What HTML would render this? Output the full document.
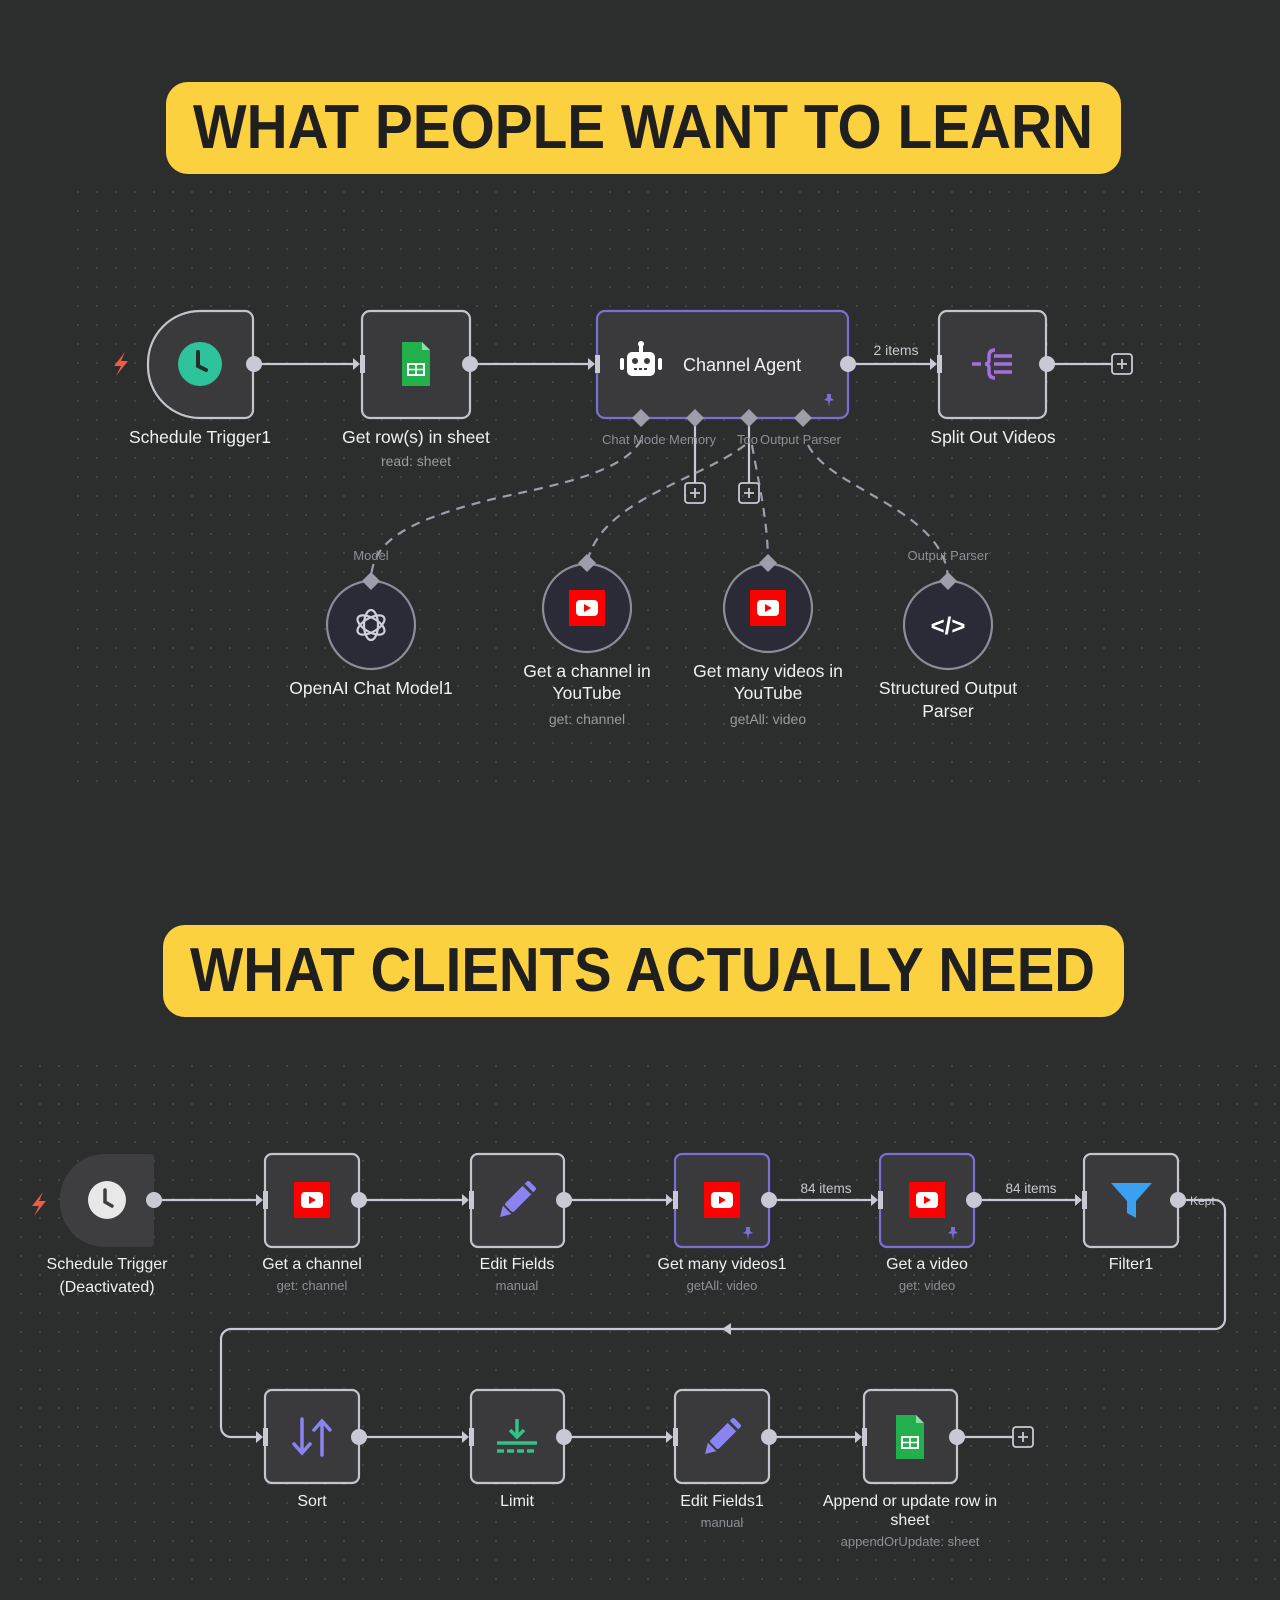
<!DOCTYPE html>
<html><head><meta charset="utf-8"><style>
html,body{margin:0;padding:0;background:#2c2d2d;}
svg{display:block}
text{font-family:"Liberation Sans",sans-serif}
</style></head><body>
<svg width="1280" height="1600" viewBox="0 0 1280 1600" xmlns="http://www.w3.org/2000/svg">
<defs>
<pattern id="dots" width="19" height="19" patternUnits="userSpaceOnUse">
<circle cx="2" cy="2" r="1" fill="#4a4b4c"/>
</pattern>
<g id="yt"><rect x="-18" y="-18" width="36" height="36" fill="#f00"/><rect x="-11" y="-8" width="22" height="16" rx="4" fill="#fff"/><path d="M-3,-4 L4,0 L-3,4Z" fill="#f00"/></g>
<g id="sheet"><path d="M-14,-22 H6 L14,-14 V22 H-14Z" fill="#22b04c"/><path d="M6,-22 V-14 H14Z" fill="#8fdca6"/><rect x="-8" y="0" width="16" height="11" fill="none" stroke="#fff" stroke-width="2"/><path d="M-8,5.5 H8 M0,0 V11" stroke="#fff" stroke-width="1.6"/></g>
<g id="inh"><path d="M-9,-6 L-2,0 L-9,6Z" fill="#c9c9d6"/><rect x="-2" y="-9" width="5" height="18" fill="#c9c9d6"/></g>
<g id="pencil"><g transform="rotate(45)"><rect x="-6" y="-22" width="12" height="34" rx="2" fill="#8b84f0"/><path d="M-6,14 L6,14 L0,24Z" fill="#8b84f0"/><rect x="-6" y="-17" width="12" height="3" fill="#3b3b3d"/></g></g>
<g id="plus"><rect x="-10" y="-10" width="20" height="20" rx="3" fill="none" stroke="#c9c9d6" stroke-width="1.8"/><path d="M-5,0 H5 M0,-5 V5" stroke="#c9c9d6" stroke-width="1.8"/></g>
</defs>
<rect width="1280" height="1600" fill="#2c2d2d"/>
<rect x="77" y="189" width="1127" height="602" fill="url(#dots)"/>
<rect x="15" y="1056" width="1265" height="541" fill="url(#dots)"/>

<rect x="166" y="82" width="955" height="92" rx="22" fill="#fbd13f"/>
<text x="193" y="148" font-size="62" font-weight="bold" fill="#1f1f1f" textLength="900" lengthAdjust="spacingAndGlyphs">WHAT PEOPLE WANT TO LEARN</text>
<rect x="163" y="925" width="961" height="92" rx="22" fill="#fbd13f"/>
<text x="190" y="991" font-size="62" font-weight="bold" fill="#1f1f1f" textLength="905" lengthAdjust="spacingAndGlyphs">WHAT CLIENTS ACTUALLY NEED</text>

<path d="M125,352 L114,366 H121 L116,376 L128,361 H121Z" fill="#ef5b45"/>
<g stroke="#c9c9d6" stroke-width="2.2" fill="none">
<path d="M254,364 H356"/><path d="M470,364 H590"/><path d="M848,364 H932"/><path d="M1047,364 H1112"/>
<path d="M695,418 V483"/><path d="M749,418 V483"/>
</g>
<g stroke="#9d9dac" stroke-width="2.2" fill="none" stroke-dasharray="9,7">
<path d="M641,440 C620,480 520,490 470,505 C400,525 371,545 371,581"/>
<path d="M745,445 C700,480 600,500 587,563"/>
<path d="M752,445 C758,480 768,520 768,563"/>
<path d="M808,445 C830,490 948,510 948,581"/>
</g>
<use href="#plus" x="695" y="493"/><use href="#plus" x="749" y="493"/><use href="#plus" x="1122" y="364"/>

<path d="M200,311 H245 a8,8 0 0 1 8,8 V410 a8,8 0 0 1 -8,8 H200 a52,52 0 0 1 -52,-52 V363 a52,52 0 0 1 52,-52Z" fill="#3a3a3c" stroke="#c4c4cc" stroke-width="2.2"/>
<circle cx="200" cy="364" r="22" fill="#2fc39c"/><path d="M198,352 V366 L206,370" stroke="#2a2b2b" stroke-width="4" fill="none" stroke-linecap="round"/>
<circle cx="254" cy="364" r="8" fill="#c9c9d6"/>
<text x="200" y="443" font-size="17.5" fill="#f0f0f0" text-anchor="middle">Schedule Trigger1</text>

<rect x="362" y="311" width="108" height="107" rx="8" fill="#3a3a3c" stroke="#c4c4cc" stroke-width="2.2"/>
<use href="#sheet" x="416" y="364"/><use href="#inh" x="362" y="364"/>
<circle cx="470" cy="364" r="8" fill="#c9c9d6"/>
<text x="416" y="443" font-size="17.5" fill="#f0f0f0" text-anchor="middle">Get row(s) in sheet</text>
<text x="416" y="466" font-size="14" fill="#9a9a9f" text-anchor="middle">read: sheet</text>

<rect x="597" y="311" width="251" height="107" rx="8" fill="#3a3a3c" stroke="#7b6fd6" stroke-width="2.2"/>
<use href="#inh" x="597" y="364"/>
<g fill="#fff"><rect x="627" y="352" width="28" height="24" rx="5"/><rect x="620" y="358" width="4" height="12" rx="2"/><rect x="658" y="358" width="4" height="12" rx="2"/><rect x="639" y="345" width="4" height="7"/><circle cx="641" cy="344" r="3"/></g>
<circle cx="635" cy="361" r="3" fill="#3a3a3c"/><circle cx="647" cy="361" r="3" fill="#3a3a3c"/><path d="M634,369 H648" stroke="#3a3a3c" stroke-width="2" stroke-dasharray="3,2"/>
<text x="683" y="371" font-size="18" fill="#f0f0f0">Channel Agent</text>
<path d="M827,394 l4,0 l0,4 l3,2 l-4,1 l-1,6 l-1,-6 l-4,-1 l3,-2z" fill="#7b6fd6"/>
<circle cx="848" cy="364" r="8" fill="#c9c9d6"/>
<text x="896" y="355" font-size="14" fill="#c9c9cf" text-anchor="middle">2 items</text>
<g fill="#9d9dac"><path d="M641,409 l9,9 l-9,9 l-9,-9z"/><path d="M695,409 l9,9 l-9,9 l-9,-9z"/><path d="M749,409 l9,9 l-9,9 l-9,-9z"/><path d="M803,409 l9,9 l-9,9 l-9,-9z"/></g>
<g font-size="13" fill="#8f8f96"><text x="602" y="444">Chat Mode</text><text x="669" y="444">Memory</text><text x="737" y="444">Too</text><text x="760" y="444">Output Parser</text></g>

<rect x="939" y="311" width="107" height="107" rx="8" fill="#3a3a3c" stroke="#c4c4cc" stroke-width="2.2"/>
<use href="#inh" x="939" y="364"/>
<g stroke="#a66fdc" stroke-width="3.5" fill="none"><path d="M972,364 H981"/><path d="M995,350 q-6,0 -6,6 v4 q0,4 -4,4 q4,0 4,4 v4 q0,6 6,6"/><path d="M994,356 H1012 M994,364 H1012 M994,372 H1012"/></g>
<circle cx="1047" cy="364" r="8" fill="#c9c9d6"/>
<text x="993" y="443" font-size="17.5" fill="#f0f0f0" text-anchor="middle">Split Out Videos</text>

<g stroke="#8d8d99" stroke-width="2.2" fill="#2a2b36">
<circle cx="371" cy="625" r="44"/><circle cx="587" cy="608" r="44"/><circle cx="768" cy="608" r="44"/><circle cx="948" cy="625" r="44"/>
</g>
<g fill="#9d9dac"><path d="M371,572 l9,9 l-9,9 l-9,-9z"/><path d="M587,554 l9,9 l-9,9 l-9,-9z"/><path d="M768,554 l9,9 l-9,9 l-9,-9z"/><path d="M948,572 l9,9 l-9,9 l-9,-9z"/></g>
<text x="371" y="560" font-size="13" fill="#8f8f96" text-anchor="middle">Model</text>
<text x="948" y="560" font-size="13" fill="#8f8f96" text-anchor="middle">Output Parser</text>
<g stroke="#d0d0d8" stroke-width="2.2" fill="none">
<ellipse cx="371" cy="625" rx="7" ry="15"/><ellipse cx="371" cy="625" rx="7" ry="15" transform="rotate(60 371 625)"/><ellipse cx="371" cy="625" rx="7" ry="15" transform="rotate(-60 371 625)"/>
</g>
<use href="#yt" x="587" y="608"/><use href="#yt" x="768" y="608"/>
<text x="948" y="634" font-size="24" font-weight="bold" fill="#fff" text-anchor="middle">&lt;/&gt;</text>
<g font-size="17.5" fill="#f0f0f0" text-anchor="middle">
<text x="371" y="694">OpenAI Chat Model1</text>
<text x="587" y="677">Get a channel in</text><text x="587" y="699">YouTube</text>
<text x="768" y="677">Get many videos in</text><text x="768" y="699">YouTube</text>
<text x="948" y="694">Structured Output</text><text x="948" y="717">Parser</text>
</g>
<g font-size="14" fill="#9a9a9f" text-anchor="middle"><text x="587" y="724">get: channel</text><text x="768" y="724">getAll: video</text></g>

<path d="M43,1192 L32,1206 H39 L34,1216 L46,1201 H39Z" fill="#ef5b45"/>
<g stroke="#c9c9d6" stroke-width="2.2" fill="none">
<path d="M154,1200 H258"/><path d="M359,1200 H464"/><path d="M564,1200 H668"/><path d="M769,1200 H873"/><path d="M974,1200 H1077"/>
<path d="M1178,1200 H1215 a10,10 0 0 1 10,10 V1319 a10,10 0 0 1 -10,10 H231 a10,10 0 0 0 -10,10 V1427 a10,10 0 0 0 10,10 H258"/>
<path d="M359,1437 H464"/><path d="M564,1437 H668"/><path d="M769,1437 H857"/><path d="M957,1437 H1013"/>
</g>
<path d="M722,1329 L731,1323 V1335Z" fill="#c9c9d6"/>
<use href="#plus" x="1023" y="1437"/>
<g font-size="13.5" fill="#c9c9cf" text-anchor="middle"><text x="826" y="1193">84 items</text><text x="1031" y="1193">84 items</text></g>
<text x="1190" y="1205" font-size="12" fill="#c9c9cf">Kept</text>

<path d="M105,1154 H150 a4,4 0 0 1 4,4 V1243 a4,4 0 0 1 -4,4 H105 a45,45 0 0 1 -45,-45 V1199 a45,45 0 0 1 45,-45Z" fill="#3e3e40"/>
<circle cx="107" cy="1200" r="19" fill="#e8e8e8"/><path d="M105,1190 V1202 L112,1206" stroke="#3e3e40" stroke-width="3.5" fill="none" stroke-linecap="round"/>
<circle cx="154" cy="1200" r="8" fill="#c9c9d6"/>

<g fill="#3a3a3c" stroke="#c4c4cc" stroke-width="2.2">
<rect x="265" y="1154" width="94" height="93" rx="7"/><rect x="471" y="1154" width="93" height="93" rx="7"/>
<rect x="675" y="1154" width="94" height="93" rx="7" stroke="#7b6fd6"/><rect x="880" y="1154" width="94" height="93" rx="7" stroke="#7b6fd6"/>
<rect x="1084" y="1154" width="94" height="93" rx="7"/>
<rect x="265" y="1390" width="94" height="93" rx="7"/><rect x="471" y="1390" width="93" height="93" rx="7"/>
<rect x="675" y="1390" width="94" height="93" rx="7"/><rect x="864" y="1390" width="93" height="93" rx="7"/>
</g>
<use href="#inh" x="265" y="1200"/><use href="#inh" x="471" y="1200"/><use href="#inh" x="675" y="1200"/><use href="#inh" x="880" y="1200"/><use href="#inh" x="1084" y="1200"/>
<use href="#inh" x="265" y="1437"/><use href="#inh" x="471" y="1437"/><use href="#inh" x="675" y="1437"/><use href="#inh" x="864" y="1437"/>
<g fill="#c9c9d6"><circle cx="359" cy="1200" r="8"/><circle cx="564" cy="1200" r="8"/><circle cx="769" cy="1200" r="8"/><circle cx="974" cy="1200" r="8"/><circle cx="1178" cy="1200" r="8"/>
<circle cx="359" cy="1437" r="8"/><circle cx="564" cy="1437" r="8"/><circle cx="769" cy="1437" r="8"/><circle cx="957" cy="1437" r="8"/></g>

<use href="#yt" x="312" y="1200"/><use href="#pencil" x="517" y="1200"/><use href="#yt" x="722" y="1200"/><use href="#yt" x="927" y="1200"/>
<path d="M746,1227 l4,0 l0,4 l3,2 l-4,1 l-1,6 l-1,-6 l-4,-1 l3,-2z" fill="#7b6fd6"/>
<path d="M951,1227 l4,0 l0,4 l3,2 l-4,1 l-1,6 l-1,-6 l-4,-1 l3,-2z" fill="#7b6fd6"/>
<path d="M1111,1183 H1152 L1136,1201 V1218 L1127,1213 V1201Z" fill="#3aa0f0"/>
<g stroke="#8b84f0" stroke-width="3.5" fill="none" stroke-linecap="round"><path d="M302,1419 V1452 M294,1444 L302,1453 L310,1444"/><path d="M322,1455 V1422 M314,1430 L322,1421 L330,1430"/></g>
<g stroke="#2fc38a" stroke-width="3.5" fill="none"><path d="M517,1419 V1437 M510,1430 L517,1437 L524,1430"/><path d="M497,1443 H537"/><path d="M497,1451 H537" stroke-dasharray="7,3"/></g>
<use href="#pencil" x="722" y="1437"/>
<use href="#sheet" x="910" y="1437"/>

<g font-size="16" fill="#f0f0f0" text-anchor="middle">
<text x="107" y="1269">Schedule Trigger</text><text x="107" y="1292">(Deactivated)</text>
<text x="312" y="1269">Get a channel</text><text x="517" y="1269">Edit Fields</text>
<text x="722" y="1269">Get many videos1</text><text x="927" y="1269">Get a video</text><text x="1131" y="1269">Filter1</text>
<text x="312" y="1506">Sort</text><text x="517" y="1506">Limit</text><text x="722" y="1506">Edit Fields1</text>
<text x="910" y="1506">Append or update row in</text><text x="910" y="1525">sheet</text>
</g>
<g font-size="13" fill="#8f8f96" text-anchor="middle">
<text x="312" y="1290">get: channel</text><text x="517" y="1290">manual</text><text x="722" y="1290">getAll: video</text><text x="927" y="1290">get: video</text>
<text x="722" y="1527">manual</text><text x="910" y="1546">appendOrUpdate: sheet</text>
</g>
</svg>
</body></html>
